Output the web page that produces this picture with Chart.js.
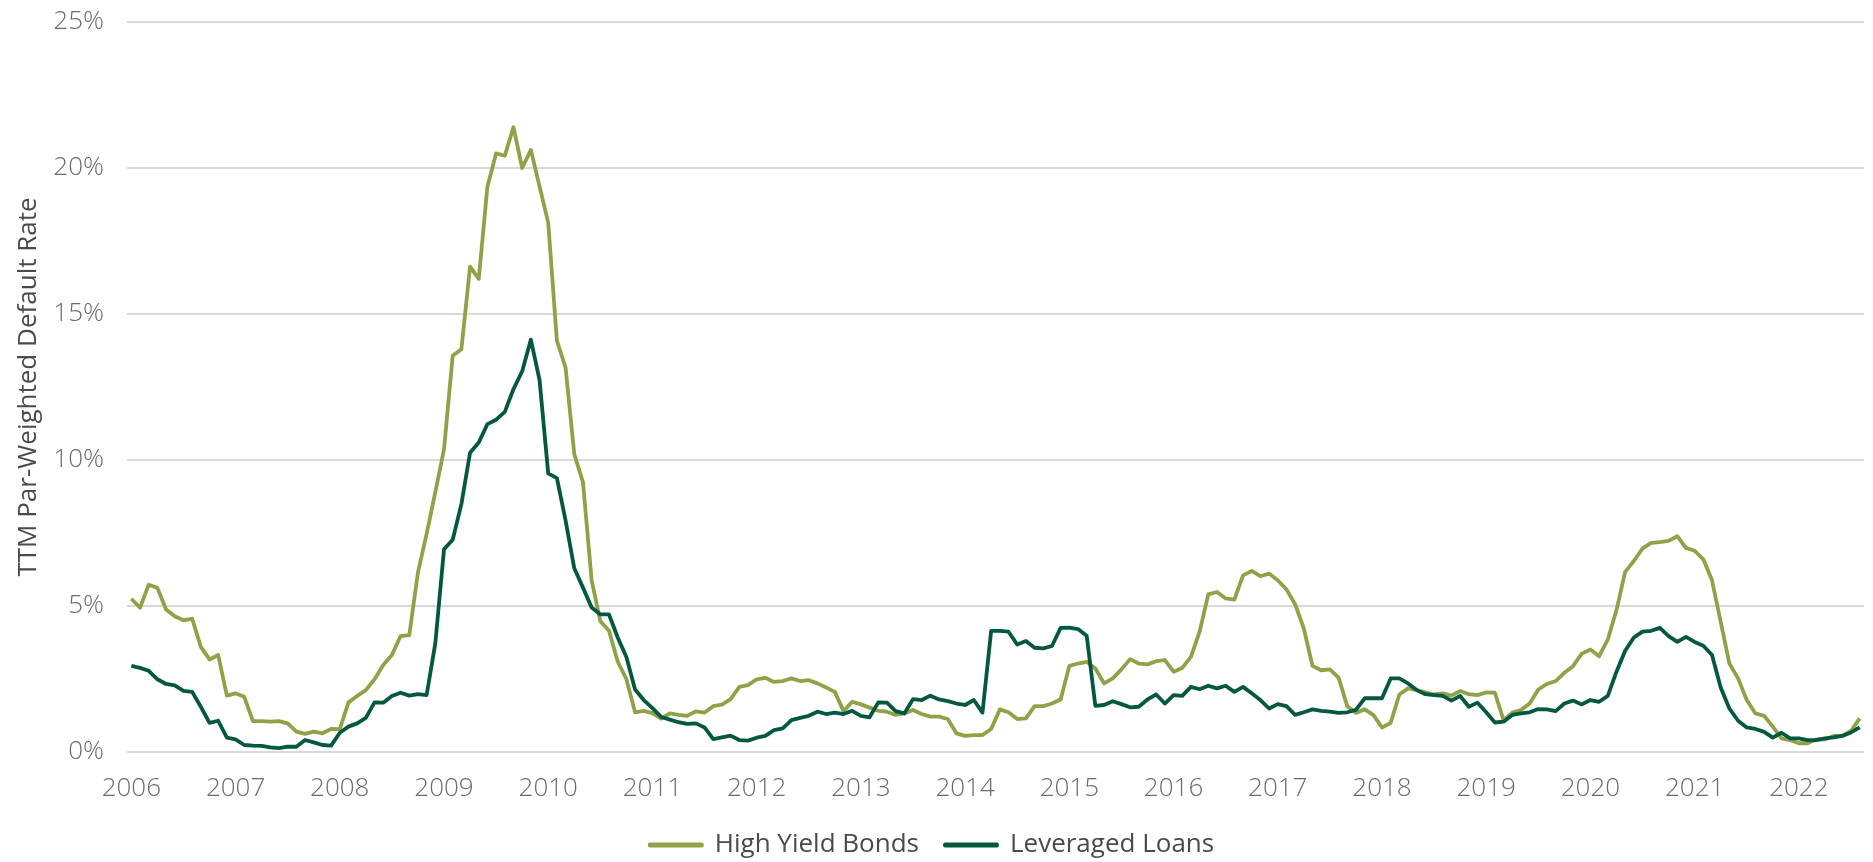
<!DOCTYPE html>
<html>
<head>
<meta charset="utf-8">
<title>TTM Par-Weighted Default Rate</title>
<script src="https://cdn.jsdelivr.net/npm/chart.js@4.4.1/dist/chart.umd.min.js"></script>
<style>
  html, body { margin: 0; padding: 0; background: #ffffff; }
  #wrap { width: 1873px; height: 862px; position: relative; }
</style>
</head>
<body>
<div id="wrap"><canvas id="chart"></canvas></div>
<script>
// Year tick labels (each year starts at January)
const tickYears = ['2006','2007','2008','2009','2010','2011','2012','2013','2014','2015','2016','2017','2018','2019','2020','2021','2022'];
const monthsInLastYear = 8; // Jan–Aug 2022

// Monthly categories, Jan 2006 – Aug 2022
const monthLabels = [];
tickYears.forEach((yr, yi) => {
  const n = yi === tickYears.length - 1 ? monthsInLastYear : 12;
  for (let m = 1; m <= n; m++) monthLabels.push(yr + '-' + String(m).padStart(2, '0'));
});

// Trailing-twelve-month par-weighted default rates, %
const highYieldBonds = [
  5.25, 4.94, 5.73, 5.62, 4.88, 4.65, 4.51, 4.57, 3.60, 3.17, 3.32, 1.93,
  2.01, 1.89, 1.06, 1.06, 1.04, 1.06, 0.98, 0.70, 0.62, 0.70, 0.64, 0.79,
  0.78, 1.70, 1.92, 2.12, 2.49, 2.98, 3.32, 3.97, 4.00, 6.15, 7.47, 8.90,
  10.36, 13.57, 13.79, 16.62, 16.20, 19.37, 20.50, 20.42, 21.40, 20.00, 20.62, 19.37,
  18.13, 14.09, 13.16, 10.20, 9.24, 5.88, 4.48, 4.15, 3.10, 2.49, 1.36, 1.41,
  1.33, 1.14, 1.32, 1.27, 1.24, 1.39, 1.35, 1.57, 1.62, 1.81, 2.23, 2.29,
  2.49, 2.54, 2.40, 2.43, 2.52, 2.43, 2.46, 2.35, 2.21, 2.06, 1.40, 1.72,
  1.63, 1.52, 1.41, 1.38, 1.27, 1.32, 1.44, 1.30, 1.21, 1.21, 1.13, 0.64,
  0.55, 0.58, 0.58, 0.79, 1.46, 1.36, 1.13, 1.15, 1.57, 1.57, 1.66, 1.80,
  2.95, 3.03, 3.09, 2.86, 2.35, 2.52, 2.83, 3.18, 3.03, 3.00, 3.11, 3.15,
  2.75, 2.88, 3.26, 4.12, 5.40, 5.48, 5.26, 5.22, 6.05, 6.20, 6.02, 6.11,
  5.88, 5.57, 5.06, 4.23, 2.95, 2.80, 2.83, 2.55, 1.57, 1.34, 1.46, 1.27,
  0.84, 1.00, 1.97, 2.18, 2.12, 2.04, 1.97, 2.01, 1.93, 2.09, 1.98, 1.95,
  2.04, 2.03, 1.09, 1.35, 1.44, 1.66, 2.14, 2.33, 2.43, 2.71, 2.94, 3.37,
  3.51, 3.28, 3.85, 4.86, 6.17, 6.54, 6.97, 7.16, 7.19, 7.23, 7.39, 6.99,
  6.89, 6.60, 5.88, 4.46, 3.03, 2.52, 1.78, 1.32, 1.24, 0.87, 0.47, 0.41,
  0.30, 0.30, 0.43, 0.43, 0.55, 0.56, 0.72, 1.15
];

const leveragedLoans = [
  2.95, 2.88, 2.78, 2.49, 2.33, 2.28, 2.09, 2.06, 1.55, 1.00, 1.07, 0.49,
  0.43, 0.24, 0.22, 0.21, 0.16, 0.13, 0.18, 0.18, 0.41, 0.33, 0.24, 0.22,
  0.66, 0.87, 0.98, 1.17, 1.70, 1.69, 1.92, 2.03, 1.93, 1.98, 1.95, 3.72,
  6.94, 7.27, 8.49, 10.25, 10.60, 11.23, 11.38, 11.65, 12.43, 13.04, 14.12, 12.74,
  9.54, 9.38, 7.92, 6.29, 5.63, 4.95, 4.71, 4.71, 3.92, 3.25, 2.14, 1.78,
  1.50, 1.20, 1.11, 1.02, 0.96, 0.98, 0.84, 0.44, 0.50, 0.56, 0.41, 0.39,
  0.49, 0.55, 0.75, 0.81, 1.09, 1.17, 1.24, 1.38, 1.30, 1.35, 1.30, 1.41,
  1.24, 1.19, 1.70, 1.69, 1.40, 1.32, 1.81, 1.78, 1.93, 1.80, 1.74, 1.66,
  1.61, 1.78, 1.35, 4.15, 4.15, 4.12, 3.68, 3.80, 3.57, 3.55, 3.63, 4.25,
  4.26, 4.21, 3.98, 1.58, 1.61, 1.74, 1.64, 1.53, 1.55, 1.80, 1.97, 1.66,
  1.95, 1.92, 2.23, 2.15, 2.27, 2.18, 2.27, 2.06, 2.23, 2.01, 1.78, 1.49,
  1.64, 1.57, 1.27, 1.36, 1.46, 1.41, 1.38, 1.34, 1.36, 1.44, 1.84, 1.84,
  1.84, 2.52, 2.52, 2.35, 2.12, 1.98, 1.95, 1.92, 1.76, 1.92, 1.55, 1.69,
  1.36, 1.01, 1.04, 1.27, 1.32, 1.36, 1.47, 1.46, 1.40, 1.66, 1.76, 1.63,
  1.78, 1.72, 1.92, 2.75, 3.47, 3.92, 4.12, 4.15, 4.25, 3.97, 3.77, 3.94,
  3.77, 3.64, 3.32, 2.21, 1.49, 1.07, 0.84, 0.79, 0.69, 0.49, 0.66, 0.47,
  0.47, 0.41, 0.41, 0.47, 0.50, 0.55, 0.67, 0.84
];

// Y axis tick values, %
const yTicks = [0, 5, 10, 15, 20, 25];

const HY_COLOR = '#90a248';
const LL_COLOR = '#03583f';
const FONT = '"Open Sans", "Noto Sans", sans-serif';

new Chart(document.getElementById('chart'), {
  type: 'line',
  data: {
    labels: monthLabels,
    datasets: [
      {
        label: 'High Yield Bonds',
        data: highYieldBonds,
        borderColor: HY_COLOR,
        backgroundColor: HY_COLOR,
        borderWidth: 3.8,
        pointRadius: 0,
        tension: 0,
        borderJoinStyle: 'round',
        order: 2
      },
      {
        label: 'Leveraged Loans',
        data: leveragedLoans,
        borderColor: LL_COLOR,
        backgroundColor: LL_COLOR,
        borderWidth: 3.8,
        pointRadius: 0,
        tension: 0,
        borderJoinStyle: 'round',
        order: 1
      }
    ]
  },
  options: {
    responsive: true,
    maintainAspectRatio: false,
    animation: false,
    // the legend row sits close to the bottom edge, so its lower padding is pulled back a little
    layout: { padding: { top: 22, right: 9, left: 0, bottom: -6 } },
    plugins: {
      tooltip: { enabled: false },
      legend: {
        position: 'bottom',
        reverse: true,
        labels: {
          boxWidth: 52,
          boxHeight: 1,
          padding: 26,
          color: '#4a4a4a',
          font: { family: FONT, size: 26 }
        }
      }
    },
    scales: {
      x: {
        type: 'category',
        offset: true,
        grid: { display: false, drawTicks: false },
        border: { display: false },
        afterFit: (s) => { s.height = 54; s.paddingLeft = 0; s.paddingRight = 0; },
        ticks: {
          autoSkip: false,
          maxRotation: 0,
          minRotation: 0,
          padding: 21,
          color: '#6b6b6b',
          font: { family: FONT, size: 26, weight: 300 },
          callback: function (value, index) {
            const lbl = monthLabels[index];
            return lbl.endsWith('-01') ? lbl.slice(0, 4) : '';
          }
        }
      },
      y: {
        min: 0,
        max: 25,
        afterBuildTicks: (axis) => { axis.ticks = yTicks.map(v => ({ value: v })); },
        afterFit: (s) => { s.width = 127; s.paddingTop = 0; s.paddingBottom = 0; },
        grid: { color: '#d9d9d9', lineWidth: 2, drawTicks: false },
        border: { display: false },
        ticks: {
          padding: 23,
          color: '#6b6b6b',
          font: { family: FONT, size: 26, weight: 300 },
          callback: (v) => v + '%'
        },
        title: {
          display: true,
          text: 'TTM Par-Weighted Default Rate',
          color: '#4a4a4a',
          font: { family: FONT, size: 26 },
          padding: { top: 13, bottom: 6 }
        }
      }
    }
  }
});
</script>
</body>
</html>
